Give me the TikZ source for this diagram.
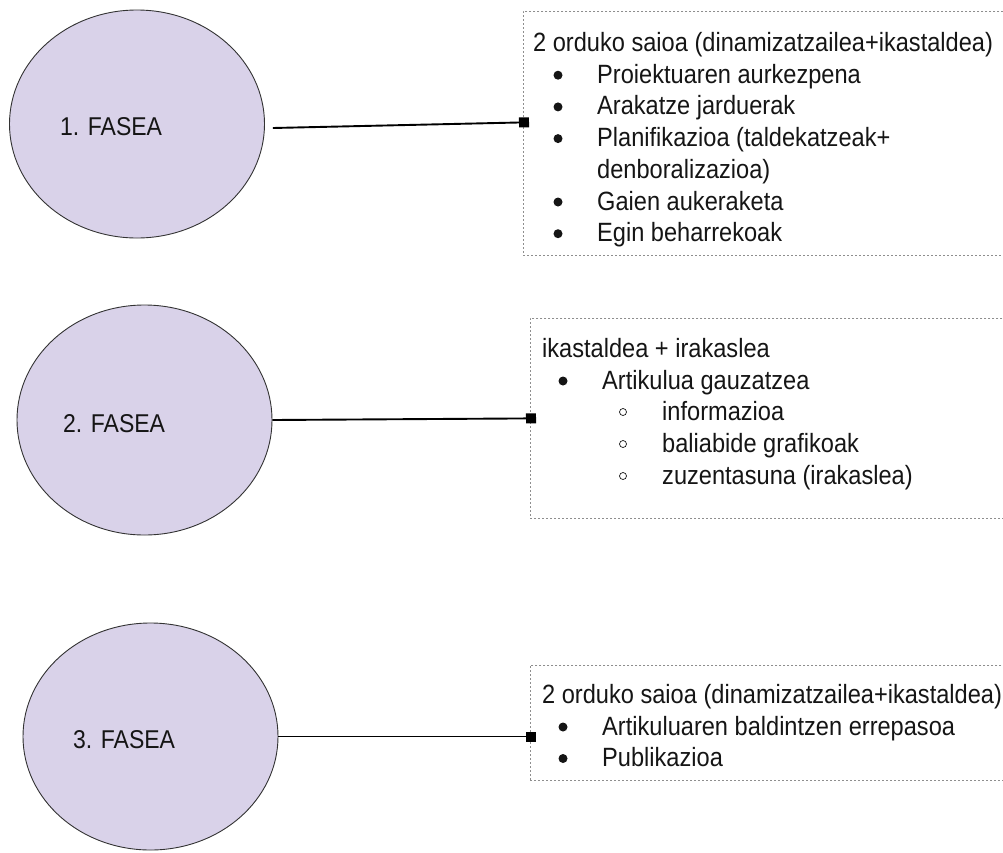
\documentclass[tikz,border=0pt]{standalone}
\usepackage{fontspec}
\setmainfont{Liberation Sans}
\usetikzlibrary{shapes.geometric,arrows.meta}
\definecolor{phase}{HTML}{D9D2E9}
\definecolor{txt}{HTML}{151515}
\definecolor{frame}{HTML}{8E8E8E}
\newcommand{\tallt}[1]{\scalebox{1}[1.12]{#1}}
\begin{document}
\begin{tikzpicture}[x=1pt,y=-1pt,
  phasebox/.style={ellipse, draw=black!80, line width=0.9pt, fill=phase, inner sep=0},
  lbl/.style={anchor=base west, inner sep=0, font=\fontsize{23}{28}\selectfont, text=txt},
  infobox/.style={rectangle, draw=frame, dash pattern=on 2pt off 2pt, line width=0.8pt, anchor=north west, inner sep=0},
  txtl/.style={anchor=base west, inner sep=0, font=\fontsize{23.6}{31.7}\selectfont, text=txt},
  link/.style={line width=1.9pt, draw=black, -{Square[length=10pt,width=10pt]}, shorten >=-6pt},
  dotb/.style={fill=txt},
  ringb/.style={draw=txt, line width=0.7pt}]
\useasboundingbox (0,0) rectangle (1003,852);
\clip (0,0) rectangle (1003,852);

% phases
\node[phasebox, minimum width=255pt, minimum height=228pt] (e1) at (137,124) {};
\node[phasebox, minimum width=255pt, minimum height=230pt] (e2) at (144.5,420) {};
\node[phasebox, minimum width=255pt, minimum height=227pt] (e3) at (150.5,736.5) {};
\node[lbl] (l1) at (60,135) {\tallt{1. FASEA}};
\node[lbl] (l2) at (63,432) {\tallt{2. FASEA}};
\node[lbl] (l3) at (73,748) {\tallt{3. FASEA}};

% boxes
\node[infobox, minimum width=490pt, minimum height=244pt] (b1) at (523,11) {};
\node[infobox, minimum width=480pt, minimum height=200pt] (b2) at (530,318) {};
\node[infobox, minimum width=480pt, minimum height=115pt] (b3) at (530,665) {};

% box 1 text
\node[txtl] (t10) at (533,51.5) {\tallt{2 orduko saioa (dinamizatzailea+ikastaldea)}};
\fill[dotb] (558,75.2) circle (4.5pt);
\node[txtl] (t11) at (597,83.2) {\tallt{Proiektuaren aurkezpena}};
\fill[dotb] (558,106.9) circle (4.5pt);
\node[txtl] (t12) at (597,114.9) {\tallt{Arakatze jarduerak}};
\fill[dotb] (558,138.6) circle (4.5pt);
\node[txtl] (t13) at (597,146.6) {\tallt{Planifikazioa (taldekatzeak+}};
\node[txtl] (t14) at (597,178.3) {\tallt{denboralizazioa)}};
\fill[dotb] (558,202) circle (4.5pt);
\node[txtl] (t15) at (597,210) {\tallt{Gaien aukeraketa}};
\fill[dotb] (558,233.7) circle (4.5pt);
\node[txtl] (t16) at (597,241.7) {\tallt{Egin beharrekoak}};

% box 2 text
\node[txtl] (t20) at (542,357) {\tallt{ikastaldea + irakaslea}};
\fill[dotb] (563,381) circle (4.5pt);
\node[txtl] (t21) at (602,389) {\tallt{Artikulua gauzatzea}};
\draw[ringb] (623,412) circle (3.5pt);
\node[txtl] (t22) at (662,420) {\tallt{informazioa}};
\draw[ringb] (623,444) circle (3.5pt);
\node[txtl] (t23) at (662,452) {\tallt{baliabide grafikoak}};
\draw[ringb] (623,476) circle (3.5pt);
\node[txtl] (t24) at (662,484) {\tallt{zuzentasuna (irakaslea)}};

% box 3 text
\node[txtl] (t30) at (542,703.5) {\tallt{2 orduko saioa (dinamizatzailea+ikastaldea)}};
\fill[dotb] (563,727) circle (4.5pt);
\node[txtl] (t31) at (602,735) {\tallt{Artikuluaren baldintzen errepasoa}};
\fill[dotb] (563,758.5) circle (4.5pt);
\node[txtl] (t32) at (602,766.5) {\tallt{Publikazioa}};

% connectors
\draw[link] ([xshift=8pt,yshift=-4pt]e1.east) -- ([yshift=11pt]b1.west);
\draw[link] (e2.east) -- (b2.west);
\draw[link] (e3.east) -- (e3.east -| b3.west);
\end{tikzpicture}
\end{document}
